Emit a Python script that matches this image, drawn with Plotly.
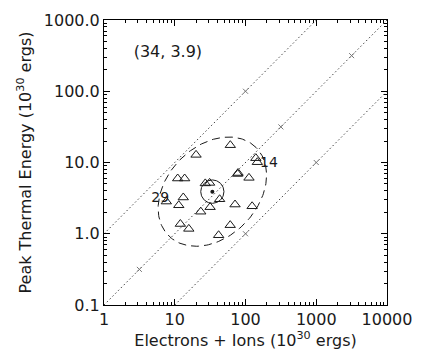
import numpy as np
import plotly.graph_objects as go

# ---- data ----
electrons_ions = [61.0, 20.0, 140, 147, 11.0, 13.8, 78.5, 77.3, 112, 27.0, 31.1,
                  13.2, 7.60, 11.4, 43.1, 71.1, 124, 31.6, 23.3, 12.0, 15.8, 60.8, 41.7]
peak_thermal = [17.5, 12.8, 11.5, 10.1, 5.96, 5.96, 7.12, 6.90, 6.09, 5.09, 5.17,
                3.23, 2.83, 2.51, 3.05, 2.57, 2.43, 2.36, 2.04, 1.37, 1.17, 1.32, 0.953]
label_text = ["29", "14"]
label_x = [6.23, 215]
label_y = [3.16, 9.6]

center_x, center_y = 34, 3.9
center_text = "(34, 3.9)"
ratio_lines = [1.0, 0.1, 0.01]          # thermal = ratio * (electrons+ions)
ratio_marks_x = [[100], [3.162, 316.2, 3162], [100, 1000]]

x_tickvals = [1, 10, 100, 1000, 10000]
x_ticktext = ["1", "10", "100", "1000", "10000"]
y_tickvals = [0.1, 1, 10, 100, 1000]
y_ticktext = ["0.1", "1.0", "10.0", "100.0", "1000.0"]

circle_r = 0.164                       # decades
ell_a, ell_b, ell_phi = 0.875, 0.64, np.pi / 4

FONT = "DejaVu Sans"
INK = "#1a1a1a"

fig = go.Figure()

xmin, xmax = 1, 10000
ymin, ymax = 0.1, 1000
for r, mx in zip(ratio_lines, ratio_marks_x):
    x0 = max(xmin, ymin / r)
    x1 = min(xmax, ymax / r)
    fig.add_trace(go.Scatter(x=[x0, x1], y=[x0 * r, x1 * r], mode="lines",
                             line=dict(color="#444", width=1, dash="1.5px,2.5px"),
                             hoverinfo="skip", showlegend=False))
    fig.add_trace(go.Scatter(x=mx, y=[v * r for v in mx], mode="markers",
                             marker=dict(symbol="x-thin", size=5, color="#777",
                                         line=dict(color="#777", width=1)),
                             hoverinfo="skip", showlegend=False))

# dashed ellipse
t = np.linspace(0, 2 * np.pi, 200)
lx = np.log10(center_x) + ell_a * np.cos(t) * np.cos(ell_phi) - ell_b * np.sin(t) * np.sin(ell_phi)
ly = np.log10(center_y) + ell_a * np.cos(t) * np.sin(ell_phi) + ell_b * np.sin(t) * np.cos(ell_phi)
fig.add_trace(go.Scatter(x=10 ** lx, y=10 ** ly, mode="lines",
                         line=dict(color=INK, width=1, dash="8px,5px"),
                         hoverinfo="skip", showlegend=False))

# small circle
cx = np.log10(center_x) + circle_r * np.cos(t)
cy = np.log10(center_y) + circle_r * np.sin(t)
fig.add_trace(go.Scatter(x=10 ** cx, y=10 ** cy, mode="lines",
                         line=dict(color=INK, width=1),
                         hoverinfo="skip", showlegend=False))
fig.add_trace(go.Scatter(x=[center_x], y=[center_y], mode="markers",
                         marker=dict(symbol="circle", size=4, color=INK),
                         hoverinfo="skip", showlegend=False))

# triangles
fig.add_trace(go.Scatter(x=electrons_ions, y=peak_thermal, mode="markers",
                         marker=dict(symbol="triangle-up-open", size=9, color=INK,
                                     line=dict(color=INK, width=1)),
                         showlegend=False))

fig.add_trace(go.Scatter(x=label_x, y=label_y, mode="text", text=label_text,
                         textfont=dict(family=FONT, size=14, color=INK),
                         hoverinfo="skip", showlegend=False))
fig.add_trace(go.Scatter(x=[8.0], y=[347], mode="text", text=[center_text],
                         textfont=dict(family=FONT, size=16, color=INK),
                         hoverinfo="skip", showlegend=False))

def minor_vals(lo, hi):
    out = []
    d = lo
    while d < hi:
        out += [d * k for k in range(2, 10)]
        d *= 10
    return out

axis_common = dict(type="log", showgrid=False, zeroline=False, showline=True,
                   linecolor="black", linewidth=1, mirror="allticks",
                   ticks="inside", ticklen=6, tickcolor="black", tickwidth=1,
                   tickfont=dict(family=FONT, size=16, color=INK))

fig.update_xaxes(**axis_common, range=[0, 4], tickvals=x_tickvals, ticktext=x_ticktext,
                 minor=dict(tickvals=minor_vals(1, 10000), ticks="inside", ticklen=3,
                            tickcolor="black", showgrid=False),
                 title=dict(text="Electrons + Ions (10<sup>30</sup> ergs)",
                            font=dict(family=FONT, size=16, color=INK), standoff=4))
fig.update_yaxes(**axis_common, range=[-1, 3], tickvals=y_tickvals, ticktext=y_ticktext,
                 minor=dict(tickvals=minor_vals(0.1, 1000), ticks="inside", ticklen=3,
                            tickcolor="black", showgrid=False),
                 title=dict(text="Peak Thermal Energy (10<sup>30</sup> ergs)",
                            font=dict(family=FONT, size=16, color=INK), standoff=8))

fig.update_layout(width=423, height=358, margin=dict(l=104, r=27, t=11, b=53),
                  paper_bgcolor="white", plot_bgcolor="white")

fig.write_html("out.html")
